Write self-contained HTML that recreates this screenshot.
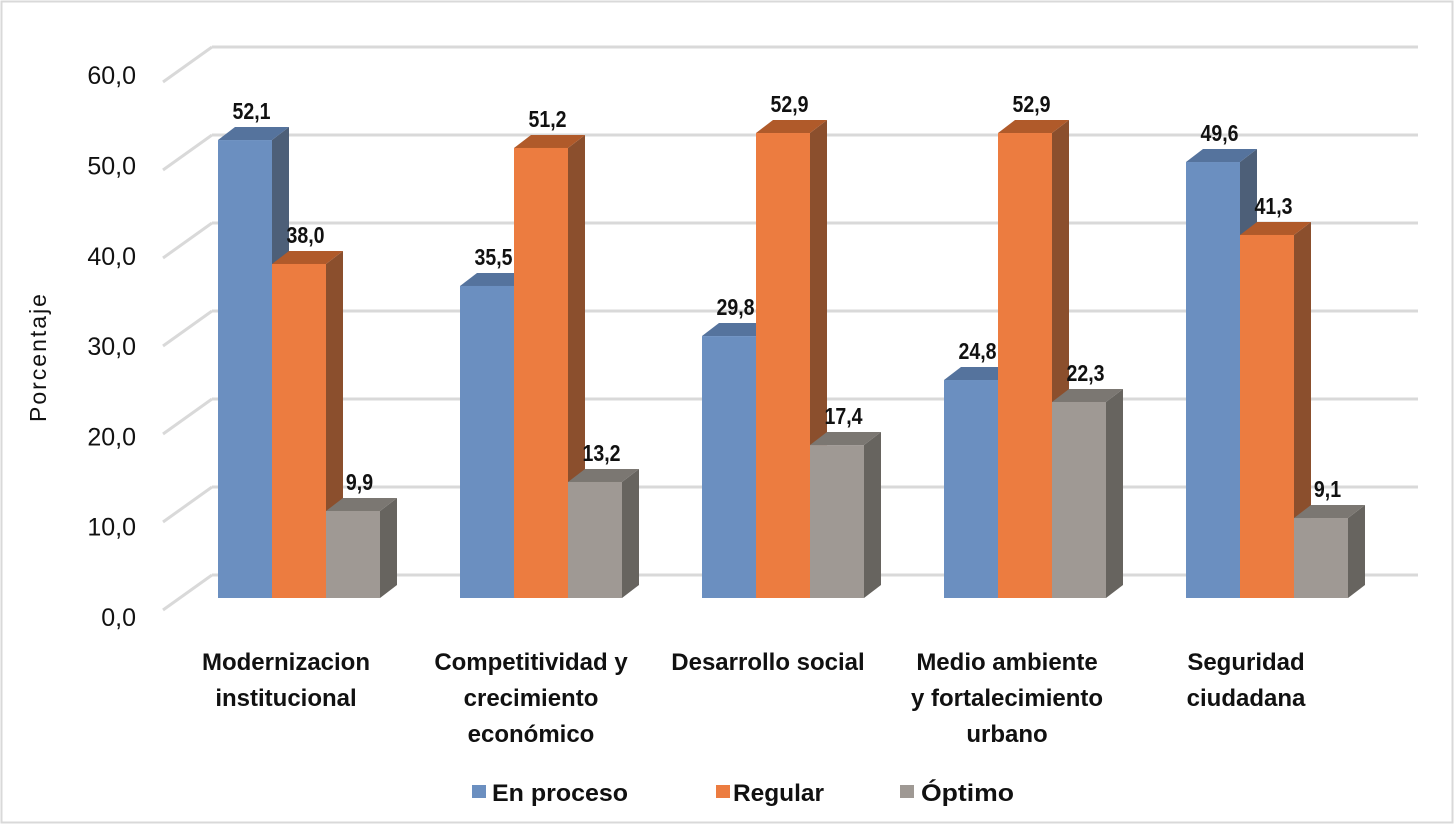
<!DOCTYPE html>
<html><head><meta charset="utf-8"><style>
html,body{margin:0;padding:0;background:#fff;}
svg{display:block;}
text{font-family:"Liberation Sans",sans-serif;fill:#111;}
</style></head><body>
<svg id="chart" width="1454" height="824" viewBox="0 0 1454 824" xmlns="http://www.w3.org/2000/svg">
<rect x="1.5" y="1.5" width="1451" height="821" fill="#fff" stroke="#d9d9d9" stroke-width="2"/>
<g id="grid"></g>
<g id="yticks"></g>
<text transform="translate(46,357) rotate(-90)" text-anchor="middle" font-size="23" letter-spacing="2">Porcentaje</text>
<g id="bars"></g>
<g id="cats"></g>
<g>
 <g><rect x="472" y="785" width="14" height="13" fill="#6b8fc0"/><text x="492" y="801" font-size="24" font-weight="bold" textLength="136" lengthAdjust="spacingAndGlyphs">En proceso</text></g>
 <g><rect x="716" y="785" width="14" height="13" fill="#ec7c40"/><text x="733" y="801" font-size="24" font-weight="bold" textLength="91" lengthAdjust="spacingAndGlyphs">Regular</text></g>
 <g><rect x="900" y="785" width="14" height="13" fill="#9f9994"/><text x="921" y="801" font-size="24" font-weight="bold" textLength="93" lengthAdjust="spacingAndGlyphs">Óptimo</text></g>
</g>
</svg>
<script>
const categories = [["Modernizacion","institucional"],["Competitividad y","crecimiento","económico"],["Desarrollo social"],["Medio ambiente","y fortalecimiento","urbano"],["Seguridad","ciudadana"]];
const enProceso = [52.1, 35.5, 29.8, 24.8, 49.6];
const regular = [38.0, 51.2, 52.9, 52.9, 41.3];
const optimo = [9.9, 13.2, 17.4, 22.3, 9.1];
const tickValues = [0,10,20,30,40,50,60];
const tickLabels = ["0,0","10,0","20,0","30,0","40,0","50,0","60,0"];

const NS="http://www.w3.org/2000/svg";
function mk(tag, attrs, parent){const e=document.createElementNS(NS,tag);for(const k in attrs)e.setAttribute(k,attrs[k]);parent.appendChild(e);return e;}
const yFront = v => 598 - v*8.79;
const yBack = v => 575 - v*8.8;
const yLabel = v => 617 - v*9.03;
const groupX = i => 218 + i*242;
const BW=54, DX=17, DY=13;
const series=[{vals:enProceso,f:"#6b8fc0",s:"#4d5f78",t:"#55739d",n:"en-proceso"},
 {vals:regular,f:"#ec7c40",s:"#8b4f2d",t:"#b05a2a",n:"regular"},
 {vals:optimo,f:"#9f9994",s:"#67645f",t:"#7b7772",n:"optimo"}];

const grid=document.getElementById('grid');
tickValues.forEach((v,i)=>{
  const y=yBack(v);
  const l=mk('line',{x1:212,y1:y,x2:1418,y2:y,stroke:'#d9d9d9','stroke-width':3},grid);
  
  
  const d=mk('line',{x1:163,y1:y+35,x2:212,y2:y,stroke:'#d9d9d9','stroke-width':3},grid);
  
  
  const t=mk('text',{x:136,y:yLabel(v)+9,'text-anchor':'end','font-size':25},document.getElementById('yticks'));
  t.textContent=tickLabels[i];
  
  
});

const bars=document.getElementById('bars');
for(let i=0;i<categories.length;i++){
  series.forEach((s,j)=>{
    const v=s.vals[i], x=groupX(i)+j*BW, yt=yFront(v), yb=yFront(0);
    const g=mk('g',{},bars);
    
    
    mk('polygon',{points:`${x+BW},${yt} ${x+BW+DX},${yt-DY} ${x+BW+DX},${yb-DY} ${x+BW},${yb}`,fill:s.s},g);
    mk('polygon',{points:`${x},${yt} ${x+DX},${yt-DY} ${x+BW+DX},${yt-DY} ${x+BW},${yt}`,fill:s.t},g);
    mk('rect',{x:x,y:yt,width:BW,height:yb-yt,fill:s.f},g);
    const lb=mk('text',{transform:`translate(${x+BW/2+DX/2-2},${yt-DY-8}) scale(0.85,1)`,'text-anchor':'middle','font-size':23,'font-weight':'bold'},g);
    lb.textContent=v.toFixed(1).replace('.',',');
    
    
  });
}
const catCenters=[286,531,768,1007,1246];
const cats=document.getElementById('cats');
categories.forEach((lines,i)=>{
  const t=mk('text',{'text-anchor':'middle','font-size':24,'font-weight':'bold'},cats);
  
  
  lines.forEach((ln,k)=>{const ts=mk('tspan',{x:catCenters[i],y:670+k*36},t);ts.textContent=ln;});
});
</script>
</body></html>
